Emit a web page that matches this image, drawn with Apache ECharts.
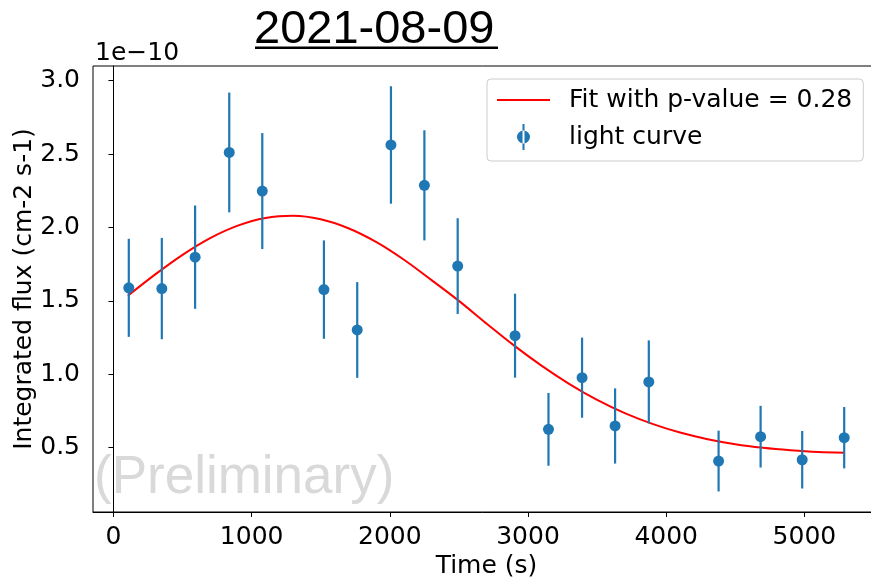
<!DOCTYPE html>
<html><head><meta charset="utf-8">
<script src="https://cdn.jsdelivr.net/npm/echarts@6/dist/echarts.min.js"></script>
<style>html,body{margin:0;padding:0;background:#fff}#c{width:871px;height:577px}</style>
</head><body><div id="c"></div>
<script>
// ---- data (flux in units of 1e-10 cm-2 s-1) ----
const titleText = '2021-08-09';
const timeValues = [111, 350, 591, 838, 1077, 1523, 1764, 2008, 2250, 2491, 2906, 3148, 3391, 3630, 3874, 4379, 4683, 4984, 5288];
const fluxValues = [1.589, 1.584, 1.798, 2.511, 2.248, 1.577, 1.302, 2.562, 2.287, 1.737, 1.263, 0.625, 0.977, 0.648, 0.948, 0.409, 0.575, 0.418, 0.568];
const fluxErrors = [0.334, 0.345, 0.352, 0.408, 0.395, 0.335, 0.326, 0.400, 0.375, 0.326, 0.286, 0.248, 0.273, 0.256, 0.283, 0.207, 0.210, 0.196, 0.209];
const fitTimes = [104, 300, 500, 700, 900, 1100, 1300, 1500, 1700, 1900, 2100, 2300, 2500, 2700, 2900, 3100, 3300, 3500, 3700, 3900, 4100, 4300, 4500, 4700, 4900, 5100, 5288];
const fitValues = [1.535, 1.679, 1.814, 1.928, 2.013, 2.065, 2.080, 2.056, 1.995, 1.902, 1.782, 1.643, 1.500, 1.345, 1.195, 1.057, 0.933, 0.825, 0.735, 0.662, 0.603, 0.558, 0.524, 0.500, 0.483, 0.471, 0.466];
const xTickValues = [0, 1000, 2000, 3000, 4000, 5000];
const yTickValues = [0.5, 1.0, 1.5, 2.0, 2.5, 3.0];
const fitName = 'Fit with p-value = 0.28';
const pointsName = 'light curve';
const xAxisTitle = 'Time (s)';
const yAxisTitle = 'Integrated flux (cm-2 s-1)';
const offsetText = '1e\u221210';
const watermark = '(Preliminary)';

const F = 'DejaVu Sans';
const FS = 25;
const chart = echarts.init(document.getElementById('c'), null, {renderer: 'canvas'});
const BLUE = '#1f77b4';

chart.setOption({
  animation: false,
  backgroundColor: '#fff',
  title: {
    text: titleText, left: 254, top: 7, padding: 0,
    textStyle: {fontFamily: 'Liberation Sans', fontSize: 47, fontWeight: 'normal', color: '#000'}
  },
  grid: {left: 93, width: 787, top: 66, height: 446, outerBoundsMode: 'none', containLabel: false,
    show: true, borderColor: '#000', borderWidth: 1, backgroundColor: 'transparent'},
  legend: {
    orient: 'vertical', left: 487, top: 79,
    padding: [7, 11, 10, 10], itemGap: 9, itemWidth: 53, itemHeight: 26,
    symbolKeepAspect: true,
    backgroundColor: 'rgba(255,255,255,0.8)', borderColor: '#cccccc', borderWidth: 1, borderRadius: 4,
    textStyle: {fontFamily: F, fontSize: FS, color: '#000', lineHeight: 28, padding: [0, 0, 0, 14]},
    data: [
      {name: fitName, icon: 'path://M0,0 H53 V2 H0 Z'},
      {name: pointsName, icon: 'path://M5.5,0 H7.5 V26 H5.5 Z M0,13 A6.5,6.5 0 1 0 13,13 A6.5,6.5 0 1 0 0,13 Z'}
    ]
  },
  xAxis: {
    type: 'value', min: -148, max: 5547,
    name: xAxisTitle, nameLocation: 'middle', nameGap: 42, nameMoveOverlap: false,
    nameTextStyle: {fontFamily: F, fontSize: FS, color: '#000'},
    axisLine: {show: true, lineStyle: {color: '#000', width: 1}},
    axisTick: {show: true, length: 5, lineStyle: {color: '#000', width: 1}, customValues: xTickValues},
    axisLabel: {fontFamily: F, fontSize: FS, color: '#000', margin: 13, customValues: xTickValues,
      formatter: v => String(v)},
    splitLine: {show: false}
  },
  yAxis: {
    type: 'value', min: 0.062, max: 3.1,
    name: yAxisTitle, nameLocation: 'middle', nameGap: 56, nameRotate: 90, nameMoveOverlap: false,
    nameTextStyle: {fontFamily: F, fontSize: FS, color: '#000'},
    axisLine: {show: true, lineStyle: {color: '#000', width: 1}},
    axisTick: {show: true, length: 5, lineStyle: {color: '#000', width: 1}, customValues: yTickValues},
    axisLabel: {fontFamily: F, fontSize: FS, color: '#000', margin: 13, customValues: yTickValues,
      formatter: v => Number(v).toFixed(1)},
    splitLine: {show: false}
  },
  graphic: [
    {type: 'rect', left: 255, top: 46.5, shape: {width: 243, height: 2.5}, style: {fill: '#000'}},
    {type: 'text', x: 95, y: 53, style: {text: offsetText, fontFamily: F, fontSize: FS, fill: '#000', textVerticalAlign: 'middle'}},
    {type: 'text', x: 94, y: 478, z: -1, style: {text: watermark, fontFamily: 'Liberation Sans', fontSize: 53, fill: '#d9d9d9', textVerticalAlign: 'middle'}}
  ],
  series: [
    {
      name: fitName, type: 'line', smooth: 0.3, symbol: 'none', z: 2,
      color: '#ff0000', lineStyle: {color: '#ff0000', width: 2},
      data: fitTimes.map((t, i) => [t, fitValues[i]])
    },
    {
      name: pointsName, type: 'custom', z: 3,
      itemStyle: {color: BLUE},
      encode: {x: 0, y: 1},
      data: timeValues.map((t, i) => [t, fluxValues[i], fluxErrors[i]]),
      renderItem: function (params, api) {
        const x = api.value(0), y = api.value(1), e = api.value(2);
        const p = api.coord([x, y]);
        const top = api.coord([x, y + e]);
        const bot = api.coord([x, y - e]);
        const color = api.visual('color');
        return {type: 'group', children: [
          {type: 'line', shape: {x1: top[0], y1: top[1], x2: bot[0], y2: bot[1]}, style: {stroke: color, lineWidth: 2.2}},
          {type: 'circle', shape: {cx: p[0], cy: p[1], r: 5.5}, style: {fill: color}}
        ]};
      }
    }
  ]
});
</script></body></html>
